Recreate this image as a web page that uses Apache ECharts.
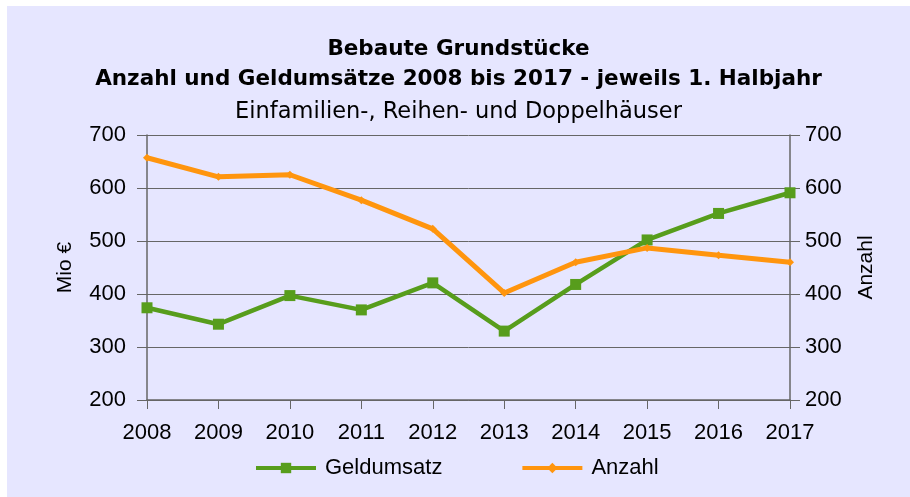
<!DOCTYPE html>
<html>
<head>
<meta charset="utf-8">
<script src="https://cdn.jsdelivr.net/npm/echarts@6/dist/echarts.min.js"></script>
<style>
  html, body { margin: 0; padding: 0; background: #fff; }
  #chart { position: absolute; left: 7px; top: 6px; width: 903px; height: 491px; }
</style>
</head>
<body>
<div id="chart"></div>
<script>
const years = ["2008", "2009", "2010", "2011", "2012", "2013", "2014", "2015", "2016", "2017"];
const geldumsatz = [374, 343, 397, 370, 421, 330, 418, 502, 552, 591];
const anzahl = [657, 621, 625, 577, 523, 402, 460, 487, 473, 460];

const font = "'Liberation Sans', Arial, sans-serif";
const titleFont = "'DejaVu Sans', sans-serif";
const chart = echarts.init(document.getElementById("chart"));

let option = {
  backgroundColor: "#e6e6ff",
  animation: false,
  title: [
    {
      text: "Bebaute Grundstücke\nAnzahl und Geldumsätze 2008 bis 2017 - jeweils 1. Halbjahr",
      left: "center",
      top: 23,
      textStyle: { fontFamily: titleFont, fontSize: 21.5, fontWeight: "bold", color: "#000", lineHeight: 30 }
    },
    {
      text: "Einfamilien-, Reihen- und Doppelhäuser",
      left: "center",
      top: 90,
      textStyle: { fontFamily: titleFont, fontSize: 22.5, fontWeight: "normal", color: "#000" }
    }
  ],
  legend: {
    left: 242,
    top: 446,
    itemWidth: 60,
    itemHeight: 13,
    itemGap: 78,
    lineStyle: { width: 4 },
    textStyle: { fontFamily: font, fontSize: 22, color: "#000", padding: [0, 0, 0, 4] },
    data: ["Geldumsatz", "Anzahl"]
  },
  grid: { left: 140, right: 120, top: 129, bottom: 97 },
  xAxis: {
    type: "category",
    data: years,
    boundaryGap: false,
    axisLine: { lineStyle: { color: "#666", width: 1.5 } },
    axisTick: { alignWithLabel: true, length: 9, lineStyle: { color: "#666" } },
    axisLabel: { fontFamily: font, fontSize: 22, color: "#000", margin: 22 }
  },
  yAxis: [
    {
      type: "value",
      min: 200,
      max: 700,
      interval: 100,
      name: "Mio €",
      nameLocation: "middle",
      nameRotate: 90,
      nameGap: 71,
      nameTextStyle: { fontFamily: font, fontSize: 21, color: "#000" },
      axisLine: { show: true, lineStyle: { color: "#666", width: 1.5 } },
      axisTick: { show: true, length: 10, lineStyle: { color: "#666" } },
      axisLabel: { fontFamily: font, fontSize: 22, color: "#000", margin: 21 },
      splitLine: { lineStyle: { color: "#666", width: 1 } }
    },
    {
      type: "value",
      min: 200,
      max: 700,
      interval: 100,
      name: "Anzahl",
      nameLocation: "middle",
      nameRotate: 90,
      nameGap: 66,
      nameTextStyle: { fontFamily: font, fontSize: 21, color: "#000" },
      axisLine: { show: true, lineStyle: { color: "#666", width: 1.5 } },
      axisTick: { show: true, length: 10, lineStyle: { color: "#666" } },
      axisLabel: { fontFamily: font, fontSize: 22, color: "#000", margin: 15 },
      splitLine: { show: false }
    }
  ],
  series: [
    {
      name: "Geldumsatz",
      type: "line",
      yAxisIndex: 0,
      data: geldumsatz,
      symbol: "rect",
      symbolSize: 11,
      lineStyle: { color: "#579d1c", width: 4.5 },
      itemStyle: { color: "#579d1c" }
    },
    {
      name: "Anzahl",
      type: "line",
      yAxisIndex: 1,
      data: anzahl,
      symbol: "diamond",
      symbolSize: 8,
      lineStyle: { color: "#ff950e", width: 5 },
      itemStyle: { color: "#ff950e" }
    }
  ]
};

chart.setOption(option);
</script>
</body>
</html>
